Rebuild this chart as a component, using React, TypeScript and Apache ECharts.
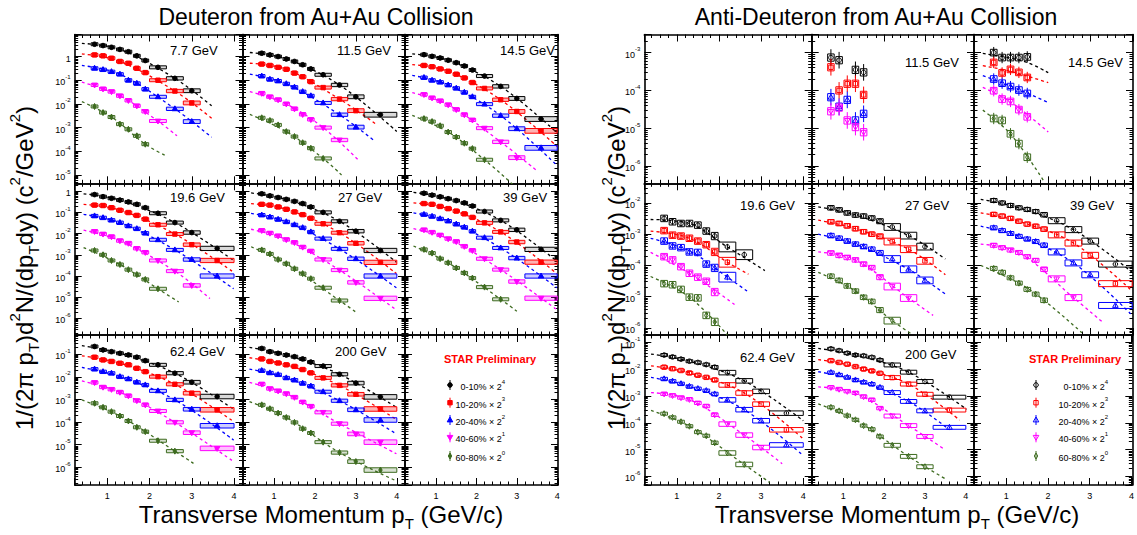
import { useEffect, useRef } from "react";
import * as echarts from "echarts";

// ---------------- data ----------------
const ptBins = [0.7, 0.9, 1.1, 1.3, 1.5, 1.7, 1.9, 2.2, 2.6, 3.0, 3.6];
const boxHalfWidth = [0.08, 0.08, 0.08, 0.08, 0.08, 0.08, 0.08, 0.2, 0.2, 0.2, 0.4];
const sysDecDeu = [0.05, 0.05, 0.05, 0.05, 0.05, 0.05, 0.05, 0.06, 0.07, 0.08, 0.1];
const sysDecAnti = [0.08, 0.08, 0.08, 0.08, 0.08, 0.08, 0.09, 0.12, 0.12, 0.12, 0.12];
const antiSysScale = [0, 1.2, 1.1, 1.3, 0.9, 0.8, 0.7, 0.6];
const centralities = ["0-10%", "10-20%", "20-40%", "40-60%", "60-80%"];
const scalePowers = ["4", "3", "2", "1", "0"];
const deuEnergies = ["7.7 GeV", "11.5 GeV", "14.5 GeV", "19.6 GeV", "27 GeV", "39 GeV", "62.4 GeV", "200 GeV"];
const antiEnergies = ["", "11.5 GeV", "14.5 GeV", "19.6 GeV", "27 GeV", "39 GeV", "62.4 GeV", "200 GeV"];
const antiStatDec = [0, 0.22, 0.15, 0.1, 0.06, 0.05, 0.05, 0.04];

const deu7_7 = [
  [3.3, 2.9, 2.45, 2.0, 1.6, 1.07, 0.68, 0.35, 0.12, 0.036, null],
  [1.17, 1.07, 0.85, 0.62, 0.52, 0.32, 0.21, 0.1, 0.035, 0.011, null],
  [0.32, 0.28, 0.23, 0.18, 0.1, 0.074, 0.042, 0.02, 0.0062, 0.0018, null],
  [0.063, 0.043, 0.033, 0.022, 0.014, 0.0083, 0.0048, 0.0019, null, null, null],
  [0.0078, 0.0043, 0.0028, 0.0014, 0.00085, 0.00045, 0.0002, null, null, null, null],
];
const deu7_7Fit = [
  [[0.4, 3.6], [1.3, 2.0], [2.6, 0.12], [3.47, 0.0083]],
  [[0.4, 1.3], [1.3, 0.62], [2.6, 0.035], [3.47, 0.0025]],
  [[0.4, 0.42], [1.3, 0.18], [2.6, 0.0062], [3.47, 0.00039]],
  [[0.4, 0.083], [1.3, 0.022], [2.2, 0.0019], [2.65, 0.00045]],
  [[0.4, 0.0126], [1.1, 0.0028], [1.9, 0.0002], [2.4, 6.3e-5]],
];
const deu11_5 = [
  [1.38, 1.17, 1.0, 0.79, 0.62, 0.45, 0.3, 0.17, 0.063, 0.02, 0.0035],
  [0.48, 0.42, 0.35, 0.29, 0.2, 0.14, 0.087, 0.049, 0.016, 0.0052, null],
  [0.15, 0.11, 0.093, 0.071, 0.051, 0.033, 0.022, 0.011, 0.0035, 0.00105, null],
  [0.028, 0.02, 0.015, 0.01, 0.0062, 0.0036, 0.0022, 0.001, 0.0003, null, null],
  [0.0026, 0.002, 0.0013, 0.00068, 0.00042, 0.00023, 0.000135, 5e-5, null, null, null],
];
const deu11_5Fit = [
  [[0.41, 1.48], [1.3, 0.79], [2.6, 0.063], [4.0, 0.00068]],
  [[0.41, 0.52], [1.3, 0.29], [2.6, 0.016], [3.47, 0.0015]],
  [[0.41, 0.18], [1.3, 0.071], [2.6, 0.0035], [3.47, 0.00026]],
  [[0.41, 0.033], [1.3, 0.01], [2.2, 0.001], [3.06, 4.3e-5]],
  [[0.41, 0.0036], [1.3, 0.00068], [2.2, 5e-5], [2.65, 1e-5]],
];
const deu14_5 = [
  [1.2, 1.02, 0.87, 0.7, 0.55, 0.4, 0.27, 0.15, 0.055, 0.017, 0.0023],
  [0.42, 0.37, 0.3, 0.24, 0.18, 0.125, 0.08, 0.045, 0.015, 0.0048, 0.00073],
  [0.13, 0.1, 0.083, 0.063, 0.046, 0.031, 0.02, 0.0098, 0.0032, 0.0009, 0.00014],
  [0.025, 0.018, 0.0135, 0.0092, 0.0058, 0.0035, 0.0021, 0.00095, 0.00025, 5.4e-5, null],
  [0.0024, 0.0018, 0.0012, 0.00065, 0.0004, 0.00022, 0.00013, 4.4e-5, null, null, null],
];
const deu14_5Fit = [
  [[0.41, 1.3], [1.3, 0.7], [2.6, 0.055], [4.0, 0.0006]],
  [[0.41, 0.46], [1.3, 0.24], [2.6, 0.015], [4.0, 0.00016]],
  [[0.41, 0.16], [1.3, 0.063], [2.6, 0.0032], [4.0, 2.5e-5]],
  [[0.41, 0.03], [1.3, 0.0092], [2.6, 0.00025], [3.5, 1.5e-5]],
  [[0.41, 0.0033], [1.3, 0.00065], [2.2, 4.4e-5], [2.9, 4e-6]],
];
const deu19_6 = [
  [0.69, 0.55, 0.46, 0.38, 0.31, 0.24, 0.166, 0.091, 0.033, 0.0112, 0.002],
  [0.22, 0.21, 0.166, 0.126, 0.098, 0.072, 0.048, 0.026, 0.0095, 0.003, 0.00054],
  [0.068, 0.056, 0.043, 0.033, 0.023, 0.017, 0.0105, 0.0051, 0.0017, 0.0006, 0.0001],
  [0.0126, 0.0095, 0.0071, 0.0046, 0.0035, 0.002, 0.0013, 0.00054, 0.00017, 3.6e-5, null],
  [0.0016, 0.001, 0.00054, 0.00035, 0.0002, 0.000117, 6.9e-5, 2.5e-5, null, null, null],
];
const deu19_6Fit = [
  [[0.44, 0.75], [1.3, 0.38], [2.6, 0.033], [3.99, 0.00054]],
  [[0.44, 0.24], [1.3, 0.126], [2.6, 0.0095], [3.99, 0.00015]],
  [[0.44, 0.081], [1.3, 0.033], [2.6, 0.0017], [3.99, 2.5e-5]],
  [[0.44, 0.0145], [1.3, 0.0046], [2.6, 0.00017], [3.43, 8.7e-6]],
  [[0.44, 0.0022], [1.3, 0.00035], [2.2, 2.5e-5], [2.69, 6e-6]],
];
const deu27 = [
  [0.75, 0.6, 0.5, 0.41, 0.33, 0.26, 0.18, 0.1, 0.038, 0.013, 0.0016],
  [0.24, 0.22, 0.18, 0.14, 0.105, 0.078, 0.053, 0.029, 0.011, 0.0035, 0.00044],
  [0.075, 0.06, 0.047, 0.036, 0.026, 0.019, 0.012, 0.0058, 0.0019, 0.00065, 0.0001],
  [0.014, 0.0105, 0.0078, 0.0052, 0.0038, 0.0023, 0.0015, 0.0006, 0.00019, 5e-5, 8.9e-6],
  [0.0017, 0.0011, 0.0006, 0.00038, 0.00022, 0.00013, 7.5e-5, 2.8e-5, 7e-6, null, null],
];
const deu27Fit = [
  [[0.44, 0.82], [1.3, 0.41], [2.6, 0.038], [3.99, 0.00045]],
  [[0.44, 0.26], [1.3, 0.14], [2.6, 0.011], [3.99, 0.00013]],
  [[0.44, 0.09], [1.3, 0.036], [2.6, 0.0019], [3.99, 2.8e-5]],
  [[0.44, 0.016], [1.3, 0.0052], [2.6, 0.00019], [3.99, 2.5e-6]],
  [[0.44, 0.0024], [1.3, 0.00038], [2.6, 7e-6], [3.0, 2e-6]],
];
const deu39 = [
  [0.8, 0.65, 0.54, 0.44, 0.36, 0.28, 0.2, 0.11, 0.042, 0.015, 0.0018],
  [0.26, 0.24, 0.19, 0.15, 0.115, 0.085, 0.058, 0.032, 0.012, 0.004, 0.00045],
  [0.08, 0.065, 0.05, 0.039, 0.028, 0.02, 0.013, 0.0064, 0.0021, 0.0007, 0.0001],
  [0.015, 0.0115, 0.0085, 0.0057, 0.0042, 0.0025, 0.0016, 0.00065, 0.0002, 5.5e-5, 9e-6],
  [0.0018, 0.0012, 0.00066, 0.00042, 0.00024, 0.00014, 8e-5, 3e-5, 8e-6, null, null],
];
const deu39Fit = [
  [[0.44, 0.87], [1.3, 0.44], [2.6, 0.042], [3.99, 0.0005]],
  [[0.44, 0.28], [1.3, 0.15], [2.6, 0.012], [3.99, 0.00013]],
  [[0.44, 0.095], [1.3, 0.039], [2.6, 0.0021], [3.99, 2.8e-5]],
  [[0.44, 0.017], [1.3, 0.0057], [2.6, 0.0002], [3.99, 2.6e-6]],
  [[0.44, 0.0026], [1.3, 0.00042], [2.6, 8e-6], [3.0, 2.2e-6]],
];
const deu62_4 = [
  [0.22, 0.155, 0.13, 0.11, 0.093, 0.074, 0.052, 0.034, 0.0145, 0.0058, 0.00135],
  [0.074, 0.056, 0.048, 0.04, 0.034, 0.024, 0.017, 0.0102, 0.0047, 0.0019, 0.00035],
  [0.022, 0.017, 0.0145, 0.0102, 0.0081, 0.0058, 0.0044, 0.0024, 0.00096, 0.00037, 6.9e-5],
  [0.0056, 0.0035, 0.0028, 0.0021, 0.00145, 0.00089, 0.00058, 0.00031, 9.8e-5, 3.4e-5, 6.9e-6],
  [0.00068, 0.00045, 0.00029, 0.000186, 0.000112, 5.9e-5, 3.8e-5, 1.5e-5, 5.2e-6, null, null],
];
const deu62_4Fit = [
  [[0.4, 0.24], [1.3, 0.11], [2.6, 0.0145], [3.99, 0.00037]],
  [[0.4, 0.085], [1.3, 0.04], [2.6, 0.0047], [3.99, 0.000105]],
  [[0.4, 0.026], [1.3, 0.0102], [2.6, 0.00096], [3.99, 1.6e-5]],
  [[0.4, 0.0066], [1.3, 0.0021], [2.6, 9.8e-5], [3.99, 1.8e-6]],
  [[0.4, 0.00095], [1.3, 0.000186], [2.6, 5.2e-6], [3.04, 1.5e-6]],
];
const deu200 = [
  [0.18, 0.13, 0.11, 0.092, 0.078, 0.062, 0.045, 0.03, 0.013, 0.0053, 0.0013],
  [0.062, 0.048, 0.041, 0.034, 0.029, 0.021, 0.015, 0.009, 0.0042, 0.0017, 0.00038],
  [0.019, 0.015, 0.0125, 0.009, 0.0072, 0.0052, 0.0039, 0.0022, 0.00088, 0.00035, 0.000124],
  [0.0048, 0.003, 0.0024, 0.0018, 0.00125, 0.00077, 0.0005, 0.00027, 8.5e-5, 3e-5, 1.3e-5],
  [0.00058, 0.00039, 0.00025, 0.00016, 9.7e-5, 5.1e-5, 3.3e-5, 1.3e-5, 4.5e-6, 1.8e-6, 7.6e-7],
];
const deu200Fit = [
  [[0.4, 0.2], [1.3, 0.092], [2.6, 0.013], [3.99, 0.00045]],
  [[0.4, 0.07], [1.3, 0.034], [2.6, 0.0042], [3.99, 0.00013]],
  [[0.4, 0.022], [1.3, 0.009], [2.6, 0.00088], [3.99, 3e-5]],
  [[0.4, 0.0057], [1.3, 0.0018], [2.6, 8.5e-5], [3.99, 4e-6]],
  [[0.4, 0.0008], [1.3, 0.00016], [2.6, 4.5e-6], [3.99, 2.5e-7]],
];

const anti11_5 = [
  [7.4e-4, 6.3e-4, null, 3.5e-4, 3.0e-4],
  [4.1e-4, 1.0e-4, 1.5e-4, 1.5e-4, 7.6e-5],
  [6.6e-5, 3.7e-5, 5.6e-5, 1.6e-5, 2.4e-5],
  [2.8e-5, 3.5e-5, 1.6e-5, 1.07e-5, 7.8e-6],
  [],
];
const anti11_5Fit = [];
const anti14_5 = [
  [1.0e-3, 7.4e-4, 7.4e-4, 7.4e-4, 7.7e-4],
  [5.5e-4, 2.9e-4, 3.6e-4, 3.0e-4, 2.2e-4],
  [2.0e-4, 1.55e-4, 1.26e-4, 1.02e-4, 8.3e-5],
  [9.8e-5, 5.9e-5, 5.1e-5, 3.1e-5, 2.0e-5],
  [1.8e-5, 1.6e-5, 7.1e-6, 3.9e-6, 1.7e-6],
];
const anti14_5Fit = [
  [[0.44, 9.5e-4], [1.0, 7.5e-4], [1.5, 5.5e-4], [2.0, 2.95e-4]],
  [[0.44, 4.5e-4], [1.1, 3.2e-4], [2.0, 1.6e-4]],
  [[0.44, 2.45e-4], [1.1, 1.3e-4], [2.0, 4.8e-5]],
  [[0.44, 1.2e-4], [1.1, 5e-5], [2.0, 7.9e-6]],
  [[0.44, 3.0e-5], [1.1, 7e-6], [1.88, 4.2e-7]],
];
const anti19_6 = [
  [3.2e-3, 2.5e-3, 2.2e-3, 2.2e-3, 1.95e-3, 1.26e-3, 8.7e-4, 3.9e-4, 2.2e-4],
  [1.3e-3, 9.3e-4, 8.7e-4, 7.4e-4, 6.0e-4, 4.6e-4, 2.7e-4, 1.26e-4],
  [6.0e-4, 4.2e-4, 3.7e-4, 2.7e-4, 2.6e-4, 1.1e-4, 8.3e-5, 4.2e-5],
  [1.9e-4, 1.5e-4, 9.1e-5, 5.6e-5, 4.2e-5, 3.1e-5, 1.4e-5],
  [2.6e-5, 2.4e-5, 1.7e-5, 9.6e-6, 9.1e-6, 2.5e-6, 1.55e-6],
];
const anti19_6Fit = [
  [[0.38, 2.95e-3], [1.3, 2.2e-3], [2.2, 3.9e-4], [3.09, 6.8e-5]],
  [[0.38, 1.26e-3], [1.3, 7.4e-4], [2.2, 1.26e-4], [2.7, 5.2e-5]],
  [[0.38, 7.4e-4], [1.3, 2.9e-4], [2.2, 4.2e-5], [2.7, 1.4e-5]],
  [[0.38, 2.6e-4], [1.3, 5.6e-5], [2.37, 5.6e-6]],
  [[0.38, 4.4e-5], [1.3, 9.6e-6], [2.2, 5.9e-7]],
];
const anti27 = [
  [7.0e-3, 6.0e-3, 4.8e-3, 4.1e-3, 3.8e-3, 3.3e-3, 2.6e-3, 1.7e-3, 9e-4, 4e-4],
  [2.5e-3, 2.2e-3, 1.85e-3, 1.5e-3, 1.2e-3, 1.0e-3, 8.5e-4, 5.8e-4, 3.3e-4, 1.4e-4],
  [9e-4, 7.4e-4, 6e-4, 4.8e-4, 4e-4, 3.3e-4, 2.5e-4, 1.6e-4, 7.5e-5, 3.3e-5],
  [2.5e-4, 2.1e-4, 1.8e-4, 1.5e-4, 1.1e-4, 8.5e-5, 4.2e-5, 2.1e-5, 9e-6],
  [4.5e-5, 3.3e-5, 2.2e-5, 1.5e-5, 9.5e-6, 7e-6, 3.7e-6, 1.7e-6],
];
const anti27Fit = [
  [[0.39, 7.5e-3], [1.3, 4.1e-3], [2.6, 9e-4], [3.5, 1.6e-4]],
  [[0.39, 2.8e-3], [1.3, 1.5e-3], [2.6, 3.3e-4], [3.5, 5e-5]],
  [[0.39, 1.0e-3], [1.3, 4.8e-4], [2.6, 7.5e-5], [3.5, 1.2e-5]],
  [[0.39, 2.7e-4], [1.3, 1.5e-4], [2.6, 9e-6], [3.2, 2.5e-6]],
  [[0.39, 6e-5], [1.3, 1.5e-5], [2.2, 1.7e-6], [2.7, 6e-7]],
];
const anti39 = [
  [1.2e-2, 1.0e-2, 8.3e-3, 7.0e-3, 6.2e-3, 5.3e-3, 4.2e-3, 2.7e-3, 1.4e-3, 6e-4, 1.1e-4],
  [4.3e-3, 3.8e-3, 3.2e-3, 2.6e-3, 2.1e-3, 1.8e-3, 1.45e-3, 9.5e-4, 5.2e-4, 2.1e-4, 2.6e-5],
  [1.6e-3, 1.3e-3, 1.05e-3, 8.5e-4, 7e-4, 5.8e-4, 4.4e-4, 2.7e-4, 1.2e-4, 5e-5, 5.2e-6],
  [4.4e-4, 3.7e-4, 3.1e-4, 2.6e-4, 1.9e-4, 1.45e-4, 7.5e-5, 3.7e-5, 9.3e-6],
  [8e-5, 6e-5, 4e-5, 2.7e-5, 1.7e-5, 1.2e-5, 7.6e-6],
];
const anti39Fit = [
  [[0.39, 1.3e-2], [1.3, 7e-3], [2.6, 1.4e-3], [4.0, 6e-5]],
  [[0.39, 4.8e-3], [1.3, 2.6e-3], [2.6, 5.2e-4], [4.0, 1.5e-5]],
  [[0.39, 1.8e-3], [1.3, 8.5e-4], [2.6, 1.2e-4], [4.0, 2.5e-6]],
  [[0.39, 4.8e-4], [1.3, 2.6e-4], [2.6, 9.3e-6], [3.3, 1.5e-6]],
  [[0.39, 1e-4], [1.3, 2.7e-5], [1.9, 7.6e-6], [2.8, 7e-7]],
];
const anti62_4 = [
  [0.034, 0.029, 0.024, 0.02, 0.018, 0.015, 0.012, 0.0075, 0.0037, 0.0015, 2.3e-4],
  [0.012, 0.0105, 0.009, 0.0073, 0.006, 0.005, 0.004, 0.0026, 0.0013, 5e-4, 5.5e-5],
  [0.0044, 0.0036, 0.0029, 0.0023, 0.0019, 0.0016, 0.0012, 0.00072, 0.00031, 1.2e-4, 1.5e-5],
  [0.0012, 0.00105, 0.00087, 0.00075, 0.00055, 0.00042, 0.0002, 9e-5, 3.5e-5, 1.2e-5],
  [2.2e-4, 1.6e-4, 1.1e-4, 7.5e-5, 4.5e-5, 3.3e-5, 1.8e-5, 7.5e-6, 2.8e-6],
];
const anti62_4Fit = [
  [[0.39, 0.037], [1.3, 0.02], [2.6, 0.0037], [4.0, 1.2e-4]],
  [[0.39, 0.0135], [1.3, 0.0073], [2.6, 0.0013], [4.0, 2.5e-5]],
  [[0.39, 0.005], [1.3, 0.0023], [2.6, 0.00031], [4.0, 6e-6]],
  [[0.39, 0.00135], [1.3, 0.00075], [2.6, 3.5e-5], [3.5, 3e-6]],
  [[0.39, 0.00029], [1.3, 7.5e-5], [2.6, 2.8e-6], [3.2, 6e-7]],
];
const anti200 = [
  [0.058, 0.05, 0.04, 0.034, 0.032, 0.028, 0.022, 0.0145, 0.0078, 0.0035, 0.00091],
  [0.021, 0.018, 0.0155, 0.0126, 0.0102, 0.0087, 0.0071, 0.0049, 0.0028, 0.00117, 0.0003],
  [0.0076, 0.0062, 0.005, 0.004, 0.0033, 0.0028, 0.0021, 0.00135, 0.00063, 0.00028, 6.8e-5],
  [0.0021, 0.0018, 0.0015, 0.0013, 0.00095, 0.00072, 0.00035, 0.00018, 7.9e-5, 3.1e-5, null],
  [3.8e-4, 2.8e-4, 1.86e-4, 1.3e-4, 7.9e-5, 5.8e-5, 3.1e-5, 1.45e-5, 5.6e-6, 2.3e-6, null],
];
const anti200Fit = [
  [[0.39, 0.06], [1.3, 0.034], [2.6, 0.0078], [4.02, 0.00032]],
  [[0.39, 0.023], [1.3, 0.0126], [2.6, 0.0028], [3.85, 0.000126]],
  [[0.39, 0.0081], [1.3, 0.004], [2.6, 0.00063], [3.6, 5.5e-5]],
  [[0.39, 0.0022], [1.3, 0.0013], [2.6, 7.9e-5], [3.49, 1e-5]],
  [[0.39, 0.00051], [1.3, 0.00013], [2.6, 5.6e-6], [3.53, 7.6e-7]],
];

const deuPanels = [deu7_7, deu11_5, deu14_5, deu19_6, deu27, deu39, deu62_4, deu200];
const deuFits = [deu7_7Fit, deu11_5Fit, deu14_5Fit, deu19_6Fit, deu27Fit, deu39Fit, deu62_4Fit, deu200Fit];
const antiPanels = [null, anti11_5, anti14_5, anti19_6, anti27, anti39, anti62_4, anti200];
const antiFits = [null, anti11_5Fit, anti14_5Fit, anti19_6Fit, anti27Fit, anti39Fit, anti62_4Fit, anti200Fit];

// ---------------- layout & style ----------------
const FONT = '"Liberation Sans", Arial, Helvetica, sans-serif';
const classColors = ["#000000", "#ff0000", "#0000ff", "#ff00ff", "#3d6b1f"];
const classBoxFill = ["rgba(0,0,0,0.15)", "rgba(255,0,0,0.3)", "rgba(0,0,255,0.2)", "rgba(255,0,255,0.25)", "rgba(61,107,31,0.2)"];
const markerKinds = ["circle", "square", "triUp", "triDown", "diamond"];
const colBounds = [
  [[74.7, 242.5], [242.5, 405], [405, 558]],
  [[644.3, 811.7], [811.7, 974], [974, 1133]],
];
const rowBounds = [[34.5, 183.3], [183.3, 335], [335, 485]];
const xRangeCol = [[0.23, 4.2], [0.23, 4.2], [0.23, 4.02]];
const yLogRange = [
  [[-5.35, 0.93], [-6.78, 0.37], [-6.78, -0.15]],
  [[-6.46, -2.52], [-6.23, -1.37], [-6.32, -0.72]],
];
const labelPos = [
  [[170, 50], [337, 50], [500, 50], [170, 197], [338, 197], [503, 197], [170, 351], [335, 351]],
  [[0, 0], [905, 62], [1068, 62], [740, 205], [905, 205], [1070, 205], [740, 357], [905, 354]],
];
const legendGeom = [
  { title: [490, 359], marker: 450, textRight: 505, rows: [385, 402.7, 420, 437.3, 456] },
  { title: [1075, 359], marker: 1036, textRight: 1108, rows: [385, 402.7, 420, 437.3, 456] },
];

function markerEl(kind: string, cx: number, cy: number, color: string, open: boolean) {
  const style = { fill: open ? "none" : color, stroke: color, lineWidth: 1 };
  switch (kind) {
    case "circle":
      return { type: "circle", shape: { cx, cy, r: 2.3 }, style };
    case "square":
      return { type: "rect", shape: { x: cx - 2.2, y: cy - 2.2, width: 4.4, height: 4.4 }, style };
    case "triUp":
      return { type: "polygon", shape: { points: [[cx, cy - 3], [cx + 2.8, cy + 1.9], [cx - 2.8, cy + 1.9]] }, style };
    case "triDown":
      return { type: "polygon", shape: { points: [[cx, cy + 3], [cx + 2.8, cy - 1.9], [cx - 2.8, cy - 1.9]] }, style };
    default:
      return { type: "polygon", shape: { points: [[cx, cy - 3], [cx + 1.7, cy], [cx, cy + 3], [cx - 1.7, cy]] }, style };
  }
}

function logFmt(v: number) {
  const e = Math.log10(v);
  const r = Math.round(e);
  if (Math.abs(e - r) > 1e-6) return "";
  if (r === 0) return "{b|1}";
  return `{b|10}{e|${r}}`;
}

function buildOption() {
  const grids: any[] = [];
  const xAxes: any[] = [];
  const yAxes: any[] = [];
  const series: any[] = [];
  const graphic: any[] = [];

  const axisLine = { show: true, onZero: false, lineStyle: { color: "#000", width: 1.6 } };
  const axisTick = { show: true, inside: true, length: 7, lineStyle: { color: "#000", width: 1 } };

  let g = 0;
  for (let b = 0; b < 2; b++) {
    for (let r = 0; r < 3; r++) {
      for (let c = 0; c < 3; c++) {
        const idx = r * 3 + c;
        const [x0, x1] = colBounds[b][c];
        const [y0, y1] = rowBounds[r];
        grids.push({ left: x0, top: y0, width: x1 - x0, height: y1 - y0 });
        const xr = xRangeCol[c];
        const yr = yLogRange[b][r];
        const xCommon = {
          type: "value", gridIndex: g, min: xr[0], max: xr[1], splitNumber: 4,
          axisLine, axisTick, splitLine: { show: false },
          minorTick: { show: true, splitNumber: 5, length: 3.5, lineStyle: { color: "#000", width: 1 } },
        };
        xAxes.push({
          ...xCommon, position: "bottom",
          axisLabel: {
            show: r === 2, fontSize: 9, color: "#000", margin: 6, fontFamily: FONT,
            formatter: (v: number) => (Math.abs(v - Math.round(v)) < 1e-6 ? String(Math.round(v)) : ""),
          },
        });
        xAxes.push({ ...xCommon, position: "top", axisLabel: { show: false } });
        const yCommon = {
          type: "log", logBase: 10, gridIndex: g, min: Math.pow(10, yr[0]), max: Math.pow(10, yr[1]),
          splitNumber: 10, axisLine, axisTick, splitLine: { show: false },
          minorTick: { show: true, splitNumber: 9, length: 3.5, lineStyle: { color: "#000", width: 1 } },
        };
        yAxes.push({
          ...yCommon, position: "left",
          axisLabel: {
            show: c === 0, formatter: logFmt, margin: 4, color: "#000",
            rich: {
              b: { fontSize: 9, fontFamily: FONT, color: "#000", lineHeight: 13, verticalAlign: "bottom" },
              e: { fontSize: 6, fontFamily: FONT, color: "#000", lineHeight: 13, verticalAlign: "top" },
            },
          },
        });
        yAxes.push({ ...yCommon, position: "right", axisLabel: { show: false } });

        if (idx < 8) {
          const anti = b === 1;
          const panel = anti ? antiPanels[idx] : deuPanels[idx];
          const fits = anti ? antiFits[idx] : deuFits[idx];
          const statDec = anti ? antiStatDec[idx] : 0;
          const sysScale = anti ? antiSysScale[idx] : 1;
          if (fits) {
            fits.forEach((f: any, k: number) => {
              series.push({
                type: "line", xAxisIndex: 2 * g, yAxisIndex: 2 * g, data: f, showSymbol: false, symbol: "none",
                smooth: 0.35, silent: true, z: 1, animation: false,
                lineStyle: { color: classColors[k], width: 1.3, type: [3, 3] },
              });
            });
          }
          if (panel) {
            panel.forEach((vals: any[], k: number) => {
              const data: number[][] = [];
              vals.forEach((v, i) => {
                if (v != null) data.push([ptBins[i], v, boxHalfWidth[i], (anti ? sysDecAnti : sysDecDeu)[i] * sysScale]);
              });
              const color = classColors[k];
              const fill = anti ? "none" : classBoxFill[k];
              series.push({
                type: "custom", xAxisIndex: 2 * g, yAxisIndex: 2 * g, data, silent: true, z: 3,
                encode: { x: 0, y: 1 },
                renderItem: (_p: any, api: any) => {
                  const x = api.value(0);
                  const y = api.value(1);
                  const hw = api.value(2);
                  const sd = api.value(3);
                  const cpt = api.coord([x, y]);
                  const a = api.coord([x - hw, y * Math.pow(10, sd)]);
                  const bb = api.coord([x + hw, y / Math.pow(10, sd)]);
                  const h = Math.max(bb[1] - a[1], 3);
                  const children: any[] = [
                    {
                      type: "rect",
                      shape: { x: a[0], y: cpt[1] - h / 2, width: bb[0] - a[0], height: h },
                      style: { stroke: color, fill, lineWidth: 1 },
                    },
                  ];
                  if (statDec > 0) {
                    const e1 = api.coord([x, y * Math.pow(10, statDec)]);
                    const e2 = api.coord([x, y / Math.pow(10, statDec)]);
                    children.push({ type: "line", shape: { x1: cpt[0], y1: e1[1], x2: cpt[0], y2: e2[1] }, style: { stroke: color, lineWidth: 1 } });
                  }
                  children.push(markerEl(markerKinds[k], cpt[0], cpt[1], color, anti));
                  return { type: "group", children };
                },
              });
            });
          }
          const label = anti ? antiEnergies[idx] : deuEnergies[idx];
          if (label) {
            const [lx, ly] = labelPos[b][idx];
            graphic.push({
              type: "text", x: lx, y: ly, z: 10,
              style: { text: label, fontSize: 13, fontFamily: FONT, fill: "#000", align: "left", verticalAlign: "middle", textAlign: "left", textVerticalAlign: "middle" },
            });
          }
        } else {
          const lg = legendGeom[b];
          graphic.push({
            type: "text", x: lg.title[0], y: lg.title[1], z: 10,
            style: { text: "STAR Preliminary", fontSize: 11, fontWeight: "bold", fontFamily: FONT, fill: "#ff0000", align: "center", verticalAlign: "middle", textAlign: "center", textVerticalAlign: "middle" },
          });
          centralities.forEach((cName, k) => {
            const yy = lg.rows[k];
            graphic.push({ type: "line", z: 10, shape: { x1: lg.marker, y1: yy - 5, x2: lg.marker, y2: yy + 5 }, style: { stroke: classColors[k], lineWidth: 1 } });
            const m: any = markerEl(markerKinds[k], lg.marker, yy, classColors[k], b === 1);
            m.z = 11;
            graphic.push(m);
            graphic.push({
              type: "text", x: lg.textRight, y: yy, z: 10,
              style: {
                text: `{n|${cName} \u00d7 2}{p|${scalePowers[k]}}`,
                align: "right", verticalAlign: "middle", textAlign: "right", textVerticalAlign: "middle",
                rich: {
                  n: { fontSize: 9, fontFamily: FONT, fill: "#000", color: "#000", lineHeight: 13, verticalAlign: "bottom" },
                  p: { fontSize: 6, fontFamily: FONT, fill: "#000", color: "#000", lineHeight: 13, verticalAlign: "top" },
                },
              },
            });
          });
        }
        g++;
      }
    }
  }

  const titleStyle = { fontSize: 23, fontFamily: FONT, fill: "#000", align: "center", verticalAlign: "middle", textAlign: "center", textVerticalAlign: "middle" };
  graphic.push({ type: "text", x: 316, y: 17, style: { ...titleStyle, text: "Deuteron from Au+Au Collision" } });
  graphic.push({ type: "text", x: 876, y: 17, style: { ...titleStyle, text: "Anti-Deuteron from Au+Au Collision" } });

  const richBig = {
    n: { fontSize: 24, fontFamily: FONT, fill: "#000", color: "#000", lineHeight: 34, verticalAlign: "middle" },
    s: { fontSize: 15, fontFamily: FONT, fill: "#000", color: "#000", lineHeight: 34, verticalAlign: "bottom" },
    p: { fontSize: 15, fontFamily: FONT, fill: "#000", color: "#000", lineHeight: 34, verticalAlign: "top" },
  };
  const center = { align: "center", verticalAlign: "middle", textAlign: "center", textVerticalAlign: "middle" };
  const xTitle = "{n|Transverse Momentum p}{s|T}{n| (GeV/c)}";
  graphic.push({ type: "text", x: 321, y: 514, style: { text: xTitle, rich: richBig, ...center } });
  graphic.push({ type: "text", x: 897, y: 514, style: { text: xTitle, rich: richBig, ...center } });
  const yTitle = "{n|1/(2\u03c0 p}{s|T}{n|)d}{p|2}{n|N/(dp}{s|T}{n|dy) (c}{p|2}{n|/GeV}{p|2}{n|)}";
  graphic.push({ type: "text", x: 24, y: 268, rotation: Math.PI / 2, style: { text: yTitle, rich: richBig, ...center } });
  graphic.push({ type: "text", x: 616, y: 268, rotation: Math.PI / 2, style: { text: yTitle, rich: richBig, ...center } });

  return {
    animation: false,
    backgroundColor: "#ffffff",
    grid: grids,
    xAxis: xAxes,
    yAxis: yAxes,
    series,
    graphic,
  };
}

export default function App() {
  const ref = useRef<HTMLDivElement>(null);
  useEffect(() => {
    if (!ref.current) return;
    const chart = echarts.init(ref.current, undefined, { renderer: "svg" });
    chart.setOption(buildOption() as any);
    return () => chart.dispose();
  }, []);
  return <div ref={ref} style={{ position: "fixed", left: 0, top: 0, width: 1137, height: 535, background: "#fff" }} />;
}
